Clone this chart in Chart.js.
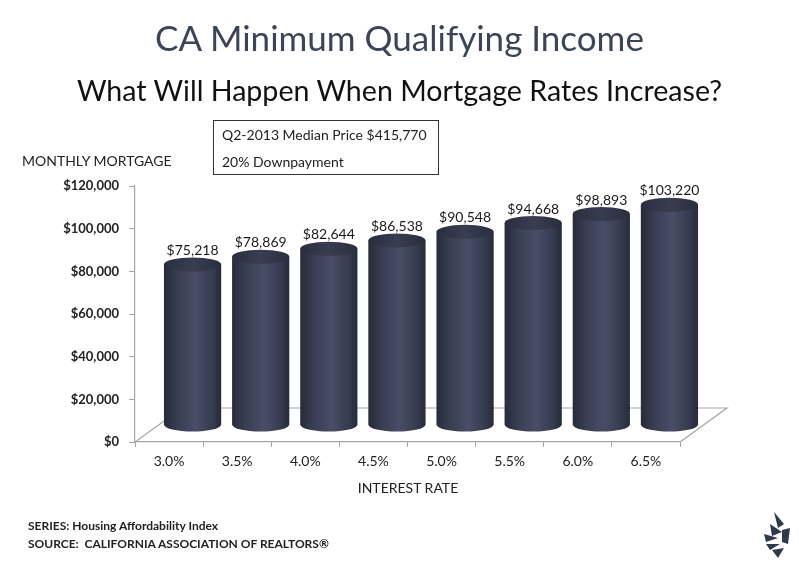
<!DOCTYPE html>
<html>
<head>
<meta charset="utf-8">
<script src="https://cdn.jsdelivr.net/npm/chart.js@4.4.0/dist/chart.umd.min.js"></script>
<style>
    body { margin: 0; background: #fff; }
    #wrap { position: relative; width: 799px; height: 567px; overflow: hidden; font-family: Lato, "Open Sans", sans-serif; }
    #chart { position: absolute; left: 0; top: 0; }
    .txt { position: absolute; white-space: nowrap; }
    #title { left: 0; width: 799px; top: 16px; text-align: center; font-size: 35px; color: #3d4457; }
    #subtitle { left: 0; width: 799px; top: 73px; text-align: center; font-size: 28.6px; color: #111; }
    #ylabel { left: 22px; top: 152px; font-size: 14px; color: #222; }
    #xlabel { left: 308px; width: 200px; top: 479px; text-align: center; font-size: 14px; color: #222; }
    #infobox { position: absolute; left: 213px; top: 120px; width: 224px; height: 53px; border: 1px solid #333; font-size: 14px; color: #222; }
    #infobox div { position: absolute; left: 8px; }
    #footer { left: 28px; top: 517px; font-size: 12px; font-weight: bold; color: #222; line-height: 18px; }
    #logo { position: absolute; left: 758px; top: 510px; }
</style>
</head>
<body>
<div id="wrap">
    <canvas id="chart" width="799" height="567"></canvas>
    <div class="txt" id="title">CA Minimum Qualifying Income</div>
    <div class="txt" id="subtitle">What Will Happen When Mortgage Rates Increase?</div>
    <div class="txt" id="ylabel">MONTHLY MORTGAGE</div>
    <div class="txt" id="xlabel">INTEREST RATE</div>
    <div id="infobox">
        <div style="top:5px">Q2-2013 Median Price $415,770</div>
        <div style="top:32px">20% Downpayment</div>
    </div>
    <div class="txt" id="footer">SERIES: Housing Affordability Index<br>SOURCE:&nbsp; CALIFORNIA ASSOCIATION OF REALTORS®</div>
    <svg id="logo" width="36" height="52" viewBox="0 0 36 52">
        <polygon points="16,2 26,14 20,18" fill="#2f3a4d"/>
        <polygon points="12,14 24,22 14,26" fill="#2f3a4d"/>
        <polygon points="6,24 20,28 8,32" fill="#2f3a4d"/>
        <polygon points="8,34 22,34 12,40" fill="#2f3a4d"/>
        <polygon points="14,40 26,38 20,48" fill="#2f3a4d"/>
        <polygon points="24,20 32,18 30,34 24,32" fill="#2f3a4d"/>
    </svg>
</div>

<script>
const rateLabels = ["3.0%", "3.5%", "4.0%", "4.5%", "5.0%", "5.5%", "6.0%", "6.5%"];
const qualifyingIncome = [75218, 78869, 82644, 86538, 90548, 94668, 98893, 103220];
const yTickMax = 120000;
const yTickStep = 20000;

const depthX = 47;
const depthY = -34;

function money(v) {
    return "$" + v.toString().replace(/\B(?=(\d{3})+(?!\d))/g, ",");
}

// floor of the 3D box, drawn before the cylinders
const floorPlugin = {
    id: "floor",
    beforeDatasetsDraw(chart) {
        const ctx = chart.ctx;
        const a = chart.chartArea;
        ctx.save();
        ctx.strokeStyle = "#a6a6a6";
        ctx.lineWidth = 1.2;
        ctx.beginPath();
        ctx.moveTo(a.left, a.bottom);
        ctx.lineTo(a.left + depthX, a.bottom + depthY);
        ctx.lineTo(a.right + depthX, a.bottom + depthY);
        ctx.lineTo(a.right, a.bottom);
        ctx.stroke();
        ctx.restore();
    }
};

// cylinders drawn from the bar elements
const cylinderPlugin = {
    id: "cylinders",
    afterDatasetsDraw(chart) {
        const ctx = chart.ctx;
        const meta = chart.getDatasetMeta(0);
        meta.data.forEach((bar, i) => {
            const cx = bar.x + depthX / 2;
            const topY = bar.y + depthY / 2;
            const botY = bar.base + depthY / 2;
            const rx = bar.width / 2;
            const ry = 7;

            const grad = ctx.createLinearGradient(cx - rx, 0, cx + rx, 0);
            grad.addColorStop(0, "#272b3a");
            grad.addColorStop(0.25, "#3a3f54");
            grad.addColorStop(0.55, "#484e66");
            grad.addColorStop(0.85, "#363b4f");
            grad.addColorStop(1, "#262a38");

            ctx.save();
            ctx.fillStyle = grad;
            ctx.beginPath();
            ctx.moveTo(cx - rx, topY);
            ctx.lineTo(cx - rx, botY);
            ctx.ellipse(cx, botY, rx, ry, 0, Math.PI, 0, true);
            ctx.lineTo(cx + rx, topY);
            ctx.closePath();
            ctx.fill();

            const topGrad = ctx.createLinearGradient(cx - rx, 0, cx + rx, 0);
            topGrad.addColorStop(0, "#2a2e3e");
            topGrad.addColorStop(0.5, "#383d51");
            topGrad.addColorStop(1, "#2a2e3e");
            ctx.fillStyle = topGrad;
            ctx.beginPath();
            ctx.ellipse(cx, topY, rx, ry, 0, 0, Math.PI * 2);
            ctx.fill();

            ctx.fillStyle = "#1a1a1a";
            ctx.font = "14px Lato, 'Open Sans', sans-serif";
            ctx.textAlign = "center";
            ctx.textBaseline = "bottom";
            ctx.fillText(money(qualifyingIncome[i]), cx, topY - ry);
            ctx.restore();
        });
    }
};

new Chart(document.getElementById("chart"), {
    type: "bar",
    data: {
        labels: rateLabels,
        datasets: [{
            label: "Minimum Qualifying Income",
            data: qualifyingIncome,
            backgroundColor: "rgba(0,0,0,0)",
            barPercentage: 0.84,
            categoryPercentage: 1.0
        }]
    },
    options: {
        responsive: false,
        animation: false,
        layout: {
            padding: { left: 0, right: 119, top: 186, bottom: 0 }
        },
        plugins: {
            legend: { display: false },
            tooltip: { enabled: false }
        },
        scales: {
            x: {
                afterFit(scale) { scale.height = 125; },
                grid: {
                    drawOnChartArea: false,
                    tickLength: 5,
                    color: "#a6a6a6"
                },
                border: { color: "#a6a6a6", width: 1.2 },
                ticks: {
                    color: "#222",
                    padding: 6,
                    font: { family: "Lato, 'Open Sans', sans-serif", size: 14 }
                }
            },
            y: {
                min: 0,
                max: yTickMax,
                afterFit(scale) { scale.width = 135; },
                grid: {
                    drawOnChartArea: false,
                    tickLength: 6,
                    color: "#a6a6a6"
                },
                border: { color: "#a6a6a6", width: 1.2 },
                ticks: {
                    stepSize: yTickStep,
                    color: "#222",
                    padding: 10,
                    font: { family: "Lato, 'Open Sans', sans-serif", size: 13, weight: "bold" },
                    callback: v => money(v)
                }
            }
        }
    },
    plugins: [floorPlugin, cylinderPlugin]
});
</script>
</body>
</html>
